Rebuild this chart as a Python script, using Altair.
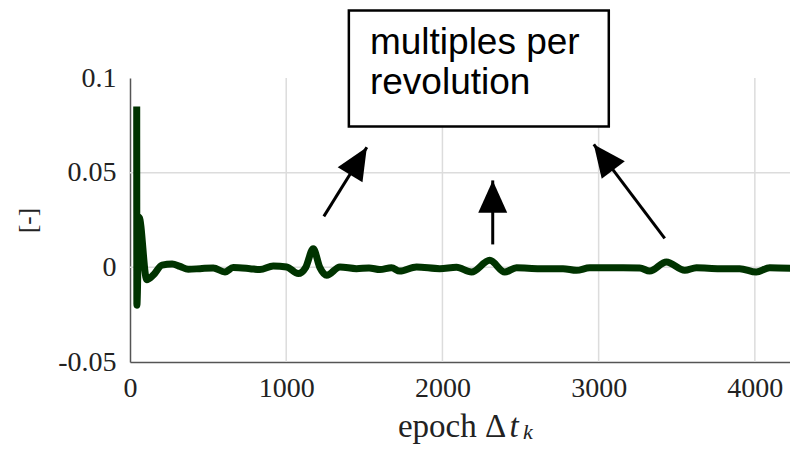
import altair as alt
import pandas as pd

# ---- data ----
epoch = [43, 44, 58, 107, 150, 205, 270, 320, 373, 448, 533, 608, 661, 768, 832, 917,
         1003, 1077, 1125, 1173, 1215, 1259, 1344, 1450, 1530, 1600, 1674, 1727, 1834,
         1983, 2090, 2186, 2303, 2399, 2474, 2623, 2772, 2858, 2943, 3007, 3156, 3263,
         3327, 3434, 3551, 3626, 3775, 3903, 4009, 4095, 4274]
value = [0.085, -0.020, 0.0265, -0.0065, -0.004, 0.0012, 0.0018, 0.0005, -0.0010,
         -0.0007, -0.0003, -0.0025, -0.0001, -0.0007, -0.0012, 0.0007, 0.0002, -0.0033,
         0.0000, 0.0098, 0.0000, -0.0042, 0.0002, -0.0007, -0.0003, -0.0012, -0.0002,
         -0.0020, 0.0002, -0.0007, 0.0000, -0.0025, 0.0037, -0.0025, -0.0002, -0.0007,
         -0.0007, -0.0016, -0.0002, -0.0002, -0.0002, -0.0003, -0.0020, 0.0028, -0.0016,
         -0.0002, -0.0007, -0.0007, -0.0025, -0.0002, -0.0007]

x_ticks = [0, 1000, 2000, 3000, 4000]
y_ticks = [-0.05, 0, 0.05, 0.1]
grid_x = [1000, 2000, 3000, 4000]
grid_y = [0, 0.05]

# x-axis title "epoch Δt_k" pieces (anchored in data units below the axis)
title_parts = ["epoch Δ", "t", "k"]
title_x = [1715, 2430, 2515]
title_y = [-0.0898, -0.0898, -0.0908]

box_lines = ["multiples per", "revolution"]
box_line_y = [0.1128, 0.0913]
box_text_x = [1536, 1536]
box_x = [1401]
box_x2 = [3065]
box_y = [0.1357]
box_y2 = [0.0744]

arrow_tail_x = [1241, 2322, 3423]
arrow_tail_y = [0.0269, 0.0121, 0.0153]
arrow_tip_x = [1516, 2322, 2969]
arrow_tip_y = [0.0634, 0.0459, 0.0649]
arrow_angle = [31.3, 0.0, 322.8]

# ---- tables ----
df = pd.DataFrame({"epoch": epoch, "value": value, "order": list(range(len(epoch)))})
gx = pd.DataFrame({"gx": grid_x})
gy = pd.DataFrame({"gy": grid_y})
box = pd.DataFrame({"x": box_x, "x2": box_x2, "y": box_y, "y2": box_y2})
txt = pd.DataFrame({"x": box_text_x, "y": box_line_y, "t": box_lines})
arr = pd.DataFrame({"x": arrow_tail_x, "y": arrow_tail_y, "x2": arrow_tip_x,
                    "y2": arrow_tip_y, "ang": arrow_angle})
ttl = pd.DataFrame({"x": title_x, "y": title_y, "t": title_parts})

XMAX = 4225
xs = alt.Scale(domain=[0, XMAX], nice=False, zero=False)
ys = alt.Scale(domain=[-0.05, 0.1], nice=False, zero=False)

SERIF = "Liberation Serif"
GRID = "#dcdcdc"
INK = "#222222"

x_axis = alt.Axis(values=x_ticks, format="d", grid=False, ticks=False,
                  domainColor="#555555", domainWidth=1.5,
                  labelFont=SERIF, labelFontSize=28, labelColor=INK,
                  labelPadding=12, labelFlush=False, title=None)
y_axis = alt.Axis(values=y_ticks, grid=False, ticks=False,
                  labelExpr="datum.value < 0 ? '-' + format(-datum.value, '~g') : format(datum.value, '~g')",
                  domainColor="#555555", domainWidth=1.5,
                  labelFont=SERIF, labelFontSize=28, labelColor=INK,
                  labelPadding=14, labelFlush=False,
                  title="[-]", titleFont=SERIF, titleFontSize=25,
                  titleFontWeight="normal", titleColor=INK,
                  titleAngle=270, titleAlign="center", titleBaseline="middle",
                  titleX=-103, titleY=142)

grid_v = alt.Chart(gx).mark_rule(color=GRID, strokeWidth=1.5).encode(
    x=alt.X("gx:Q", scale=xs, axis=x_axis))
grid_h = alt.Chart(gy).mark_rule(color=GRID, strokeWidth=1.5).encode(
    y=alt.Y("gy:Q", scale=ys, axis=y_axis))

line = alt.Chart(df).mark_line(color="#003300", strokeWidth=7, interpolate="monotone",
                               strokeJoin="round").encode(
    x=alt.X("epoch:Q", scale=xs, axis=x_axis),
    y=alt.Y("value:Q", scale=ys, axis=y_axis),
    order="order:Q",
)

rect = alt.Chart(box).mark_rect(fill="white", stroke="black", strokeWidth=2.5).encode(
    x=alt.X("x:Q", scale=xs, axis=x_axis), x2="x2:Q",
    y=alt.Y("y:Q", scale=ys, axis=y_axis), y2="y2:Q")

text = alt.Chart(txt).mark_text(align="left", baseline="alphabetic",
                                font="Liberation Sans", fontSize=37, color="black").encode(
    x=alt.X("x:Q", scale=xs, axis=x_axis),
    y=alt.Y("y:Q", scale=ys, axis=y_axis),
    text="t:N")

shafts = alt.Chart(arr).mark_rule(color="black", strokeWidth=3).encode(
    x=alt.X("x:Q", scale=xs, axis=x_axis), x2="x2:Q",
    y=alt.Y("y:Q", scale=ys, axis=y_axis), y2="y2:Q")

heads = alt.Chart(arr).mark_point(shape="M0,0L-0.9,2L0.9,2Z", filled=True, color="black",
                                  opacity=1, size=1037, strokeWidth=0).encode(
    x=alt.X("x2:Q", scale=xs, axis=x_axis),
    y=alt.Y("y2:Q", scale=ys, axis=y_axis),
    angle=alt.Angle("ang:Q", scale=None))

title_main = alt.Chart(ttl.iloc[[0]]).mark_text(
    align="left", baseline="alphabetic", font=SERIF, fontSize=33, color=INK).encode(
    x=alt.X("x:Q", scale=xs, axis=x_axis),
    y=alt.Y("y:Q", scale=ys, axis=y_axis),
    text="t:N")
title_t = alt.Chart(ttl.iloc[[1]]).mark_text(
    align="left", baseline="alphabetic", font=SERIF, fontSize=33, fontStyle="italic",
    color=INK).encode(
    x=alt.X("x:Q", scale=xs, axis=x_axis),
    y=alt.Y("y:Q", scale=ys, axis=y_axis),
    text="t:N")
title_k = alt.Chart(ttl.iloc[[2]]).mark_text(
    align="left", baseline="alphabetic", font=SERIF, fontSize=22, fontStyle="italic",
    color=INK).encode(
    x=alt.X("x:Q", scale=xs, axis=x_axis),
    y=alt.Y("y:Q", scale=ys, axis=y_axis),
    text="t:N")

chart = alt.layer(grid_v, grid_h, line, rect, text, shafts, heads,
                  title_main, title_t, title_k).properties(
    width=660, height=284,
    padding={"left": 122, "top": 70, "right": 0, "bottom": 82},
    autosize="none",
    background="white",
).configure_view(stroke=None)

chart.save("out.html", embed_options={"renderer": "svg", "actions": False})
